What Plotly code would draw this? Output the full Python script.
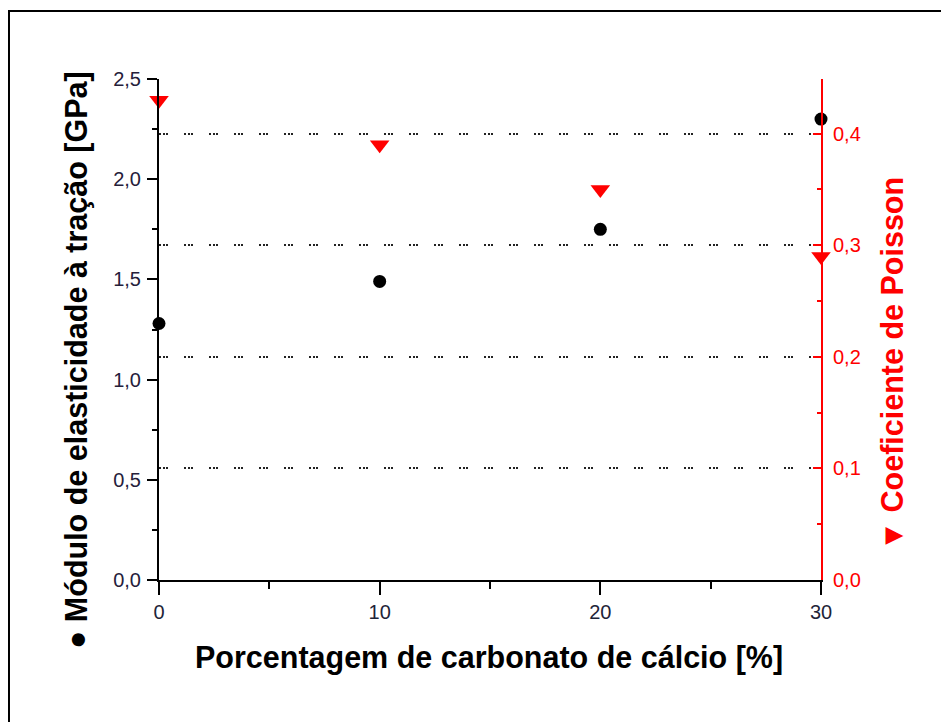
import plotly.graph_objects as go

# Data
carbonato = [0, 10, 20, 30]                 # % carbonato de cálcio
modulo = [1.28, 1.49, 1.75, 2.30]           # GPa
poisson = [0.43, 0.39, 0.35, 0.29]          # coeficiente de Poisson

x_ticks = [0, 10, 20, 30]
y_ticks = [0.0, 0.5, 1.0, 1.5, 2.0, 2.5]
y2_ticks = [0.0, 0.1, 0.2, 0.3, 0.4]

FONT = "Liberation Sans, Arial, sans-serif"
RED = "#ff0000"

fig = go.Figure()
fig.add_trace(go.Scatter(
    x=carbonato, y=modulo, mode="markers",
    marker=dict(symbol="circle", size=13, color="black"),
    cliponaxis=False, showlegend=False, yaxis="y"))
fig.add_trace(go.Scatter(
    x=carbonato, y=poisson, mode="markers",
    marker=dict(symbol="triangle-down", size=17, color=RED),
    cliponaxis=False, showlegend=False, yaxis="y2"))

fig.update_layout(
    width=941, height=714,
    margin=dict(l=151, r=128, t=71, b=142),
    paper_bgcolor="white", plot_bgcolor="white",
    separators=",.",
    font=dict(family=FONT, color="black"),
    xaxis=dict(
        range=[0, 30], tickvals=x_ticks, showgrid=False, zeroline=False,
        showline=True, linecolor="black", linewidth=2,
        ticks="outside", ticklen=13, tickwidth=2, tickcolor="black",
        minor=dict(dtick=5, ticks="outside", ticklen=7, tickwidth=2, tickcolor="black"),
        tickfont=dict(size=20, color="#1e2438"),
    ),
    yaxis=dict(
        range=[0, 2.5], tickvals=y_ticks, tickformat=".1f",
        showgrid=False, zeroline=False,
        showline=True, linecolor="black", linewidth=2,
        ticks="outside", ticklen=10, tickwidth=2, tickcolor="black",
        minor=dict(dtick=0.25, ticks="outside", ticklen=5, tickwidth=2, tickcolor="black"),
        tickfont=dict(size=20, color="#25203a"),
        ticklabelstandoff=2,
    ),
    yaxis2=dict(
        overlaying="y", side="right", anchor="x",
        range=[0, 0.449], tickvals=y2_ticks, tickformat=".1f",
        showgrid=True, gridcolor="#222222", gridwidth=1.5,
        griddash="2px,1.5px,2px,1.5px,2px,16px",
        zeroline=False,
        showline=True, linecolor=RED, linewidth=2,
        ticks="inside", ticklen=8, tickwidth=2, tickcolor=RED,
        minor=dict(dtick=0.05, ticks="inside", ticklen=4, tickwidth=2, tickcolor=RED),
        tickfont=dict(size=20, color=RED),
        ticklabelstandoff=6,
    ),
)

fig.add_annotation(
    text="<b>● Módulo de elasticidade à tração [GPa]</b>",
    xref="paper", yref="paper", x=-0.1254, y=0.439,
    xanchor="center", yanchor="middle", textangle=-90, showarrow=False,
    font=dict(size=30.5, color="black", family=FONT))
fig.add_annotation(
    text="<b>▼ Coeficiente de Poisson</b>",
    xref="paper", yref="paper", x=1.1073, y=0.431,
    xanchor="center", yanchor="middle", textangle=-90, showarrow=False,
    font=dict(size=30.5, color=RED, family=FONT))
fig.add_annotation(
    text="<b>Porcentagem de carbonato de cálcio [%]</b>",
    xref="paper", yref="paper", x=0.4985, y=-0.1537,
    xanchor="center", yanchor="middle", showarrow=False,
    font=dict(size=30.5, color="black", family=FONT))

# Outer frame (cropped at right and bottom in the reference)
fig.add_shape(type="rect", xref="paper", yref="paper",
              x0=-0.2266, y0=-0.5, x1=1.4, y1=1.1357,
              line=dict(color="black", width=2), layer="below")

fig.write_html("out.html")
